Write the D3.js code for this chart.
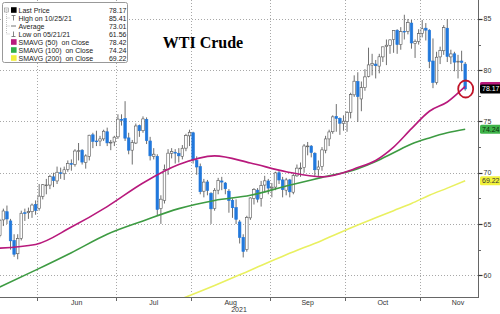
<!DOCTYPE html>
<html><head><meta charset="utf-8">
<script src="https://cdn.jsdelivr.net/npm/d3@7"></script>
<style>body{margin:0;background:#fff}svg{display:block}</style>
</head><body><svg id="c" width="500" height="314"></svg>
<script>
// ---------- DATA ----------
const dates = [
"2021-05-14","2021-05-17","2021-05-18","2021-05-19","2021-05-20","2021-05-21","2021-05-24","2021-05-25","2021-05-26","2021-05-27","2021-05-28",
"2021-06-01","2021-06-02","2021-06-03","2021-06-04","2021-06-07","2021-06-08","2021-06-09","2021-06-10","2021-06-11","2021-06-14","2021-06-15","2021-06-16","2021-06-17","2021-06-18","2021-06-21","2021-06-22","2021-06-23","2021-06-24","2021-06-25","2021-06-28","2021-06-29","2021-06-30",
"2021-07-01","2021-07-02","2021-07-06","2021-07-07","2021-07-08","2021-07-09","2021-07-12","2021-07-13","2021-07-14","2021-07-15","2021-07-16","2021-07-19","2021-07-20","2021-07-21","2021-07-22","2021-07-23","2021-07-26","2021-07-27","2021-07-28","2021-07-29","2021-07-30",
"2021-08-02","2021-08-03","2021-08-04","2021-08-05","2021-08-06","2021-08-09","2021-08-10","2021-08-11","2021-08-12","2021-08-13","2021-08-16","2021-08-17","2021-08-18","2021-08-19","2021-08-20","2021-08-23","2021-08-24","2021-08-25","2021-08-26","2021-08-27","2021-08-30","2021-08-31",
"2021-09-01","2021-09-02","2021-09-03","2021-09-07","2021-09-08","2021-09-09","2021-09-10","2021-09-13","2021-09-14","2021-09-15","2021-09-16","2021-09-17","2021-09-20","2021-09-21","2021-09-22","2021-09-23","2021-09-24","2021-09-27","2021-09-28","2021-09-29","2021-09-30",
"2021-10-01","2021-10-04","2021-10-05","2021-10-06","2021-10-07","2021-10-08","2021-10-11","2021-10-12","2021-10-13","2021-10-14","2021-10-15","2021-10-18","2021-10-19","2021-10-20","2021-10-21","2021-10-22","2021-10-25","2021-10-26","2021-10-27","2021-10-28","2021-10-29",
"2021-11-01","2021-11-02","2021-11-03","2021-11-04","2021-11-05","2021-11-08","2021-11-09","2021-11-10","2021-11-11","2021-11-12","2021-11-15","2021-11-16","2021-11-17"];

const open = [63.9,65.4,66.2,65.3,63.4,62.1,63.6,66.1,66.1,66.2,66.9,
66.5,67.7,68.8,68.8,69.6,69.2,70.0,69.9,70.3,70.9,70.8,72.1,72.2,71.0,71.6,73.7,73.1,73.1,73.3,74.0,72.9,73.0,
73.5,75.2,75.3,73.4,72.2,72.9,74.6,74.1,75.2,73.1,71.6,71.6,66.5,67.3,70.3,71.9,72.0,71.9,71.6,72.4,73.6,
73.9,71.2,70.6,68.2,69.1,68.0,66.5,68.3,69.2,69.0,68.2,67.3,66.6,65.2,63.7,62.5,65.6,67.5,68.3,67.5,68.8,69.2,
68.5,68.6,70.0,69.3,68.3,69.3,68.1,69.7,70.4,70.5,72.6,72.6,71.9,70.3,70.6,72.2,73.3,74.0,75.5,75.3,74.8,
75.0,75.9,77.6,78.9,77.2,78.3,79.4,80.5,80.6,80.4,81.3,82.3,82.4,83.0,83.9,82.5,83.8,83.8,84.6,82.6,82.8,
83.6,84.1,83.9,80.9,78.8,81.3,81.9,84.1,81.3,81.6,80.8,80.9,80.6];
const high = [65.5,66.5,66.8,65.5,64.0,64.0,66.3,66.5,66.6,67.0,67.3,
68.9,68.9,69.4,69.8,70.0,70.6,70.5,70.6,71.2,71.3,72.3,72.9,72.3,71.8,73.7,73.9,74.1,73.6,74.2,74.4,73.2,73.6,
75.7,75.7,76.98,73.9,73.2,74.8,74.7,75.5,75.4,73.5,72.4,71.8,67.8,70.8,72.3,72.4,72.3,72.4,72.7,73.8,74.2,
74.0,71.6,70.9,69.4,69.3,68.1,68.5,69.5,69.6,69.1,68.4,67.5,67.4,65.4,64.0,65.8,67.6,68.5,68.5,69.2,69.7,69.4,
69.0,70.1,70.2,69.6,69.5,69.4,69.9,70.8,71.0,72.8,73.0,72.7,72.0,71.2,72.5,73.6,74.2,75.6,76.7,75.4,75.6,
76.0,77.8,79.5,79.8,78.9,80.1,82.2,81.6,81.0,81.6,82.3,83.0,83.0,83.9,84.0,84.2,85.41,85.0,84.9,83.0,84.0,
84.9,84.6,84.0,83.1,81.8,82.3,84.4,84.97,82.0,81.8,81.5,81.9,80.8];
const low = [63.7,64.8,65.0,62.5,61.8,61.56,63.4,65.3,65.5,65.6,65.9,
66.3,67.4,67.9,68.4,68.6,68.9,69.4,69.3,70.1,70.2,70.6,71.2,70.8,70.4,71.2,72.4,72.6,72.6,73.1,72.6,72.2,72.6,
73.3,74.6,73.1,71.8,70.8,72.8,73.5,73.9,72.8,71.2,71.3,65.8,65.01,67.0,69.8,71.4,70.9,71.0,71.3,72.1,72.6,
70.9,69.8,67.9,67.6,67.8,65.01,66.3,67.9,68.3,67.9,66.1,65.6,65.0,63.1,61.74,62.3,65.4,66.9,67.1,66.7,68.1,67.9,
67.6,68.3,68.9,67.6,67.8,67.6,67.9,69.6,69.6,70.0,71.7,71.5,69.7,69.7,70.2,71.9,72.6,73.8,74.0,73.7,74.1,
74.0,75.3,77.4,74.96,76.0,78.0,79.3,79.5,79.2,79.7,80.8,80.5,81.6,81.7,81.6,82.0,83.0,83.5,82.1,81.2,82.5,
83.2,82.9,80.2,78.25,78.6,80.6,81.5,80.8,80.6,79.9,79.2,79.9,78.0];
const close = [65.37,66.27,65.49,63.36,62.05,63.58,66.05,66.07,66.21,66.85,66.32,
67.72,68.83,68.81,69.62,69.23,70.05,69.96,70.29,70.91,70.88,72.12,72.15,71.04,71.64,73.66,73.06,73.08,73.30,74.05,72.91,72.98,73.47,
75.23,75.16,73.37,72.20,72.94,74.56,74.10,75.25,73.13,71.65,71.81,66.42,67.42,70.30,71.91,72.07,71.91,71.65,72.39,73.62,73.95,
71.26,70.56,68.15,69.09,68.28,66.48,68.29,69.25,69.09,68.44,67.29,66.59,65.46,63.69,62.32,65.64,67.54,68.36,67.42,68.74,69.21,68.50,
68.59,69.99,69.29,68.35,69.30,68.14,69.72,70.45,70.46,72.61,72.61,71.97,70.29,70.56,72.23,73.30,73.98,75.45,75.29,74.83,75.03,
75.88,77.62,78.93,77.43,78.30,79.35,80.52,80.64,80.44,81.31,82.28,82.44,82.96,83.87,82.50,83.76,83.76,84.65,82.66,82.81,83.57,
84.05,83.91,80.86,78.81,81.27,81.93,84.15,81.34,81.59,80.79,80.88,80.76,78.17];

// moving averages read at sample trading-day indices
const smaIdx    = [0,10,20,30,40,50,60,70,80,90,100,105,110,115,120,125,130];
const sma50     = [62.65,63.0,64.7,66.7,69.0,70.8,71.65,70.95,70.1,69.6,70.5,71.2,72.5,74.3,76.0,76.9,78.42];
const sma100    = [58.85,60.5,62.2,64.0,65.3,66.5,67.3,67.8,68.7,69.55,70.4,71.1,71.95,72.8,73.4,73.9,74.24];
const sma200    = [null,null,null,null,null,57.6,59.0,60.5,62.0,63.4,64.9,65.6,66.3,67.0,67.8,68.5,69.22];

const yTicks = [60,65,70,75,80,85];
const yMinor = [62.5,67.5,72.5,77.5,82.5];
const monthNames = ["Jun","Jul","Aug","Sep","Oct","Nov"];
const monthDays  = [22,21,22,21,21,21];
const yearLabel = "2021";
const title = "WTI Crude";

const legendLabels = ["Last Price","High on 10/25/21","Average","Low on 05/21/21","SMAVG (50)  on Close","SMAVG (100)  on Close","SMAVG (200)  on Close"];
const legendValues = ["78.17","85.41","73.01","61.56","78.42","74.24","69.22"];
const lastPrice = 78.17;
const tagValues = [78.42, 78.17, 74.24, 69.22];
const tagText   = ["", "78.17","74.24","69.22"];   // 78.42 tag is hidden behind the last-price tag

// ---------- STYLE / LAYOUT ----------
const C = {up:"#ffffff", down:"#2178dc", wick:"#4a4a4a", s50:"#b8197c", s100:"#3d9b42", s200:"#e9f060", grid:"#a8a8a8"};
const tagFill = ["#b8197c","#000000","#3fb34a","#f2f23c"];
const tagInk  = ["#fff","#fff","#0b2a0b","#333"];
const legendIcon = ["#000","hi","avg","lo","#b8197c","#2fae49","#f0ee3a"];
const P = {l:0, r:478, t:0, b:297};
const step = 3.58, x0 = -2;
const font = "'Liberation Sans', Arial, sans-serif";

const svg = d3.select("#c");
const x = d3.scaleLinear().domain([0, dates.length]).range([x0, x0 + dates.length*step]);
const y = d3.scaleLinear().domain([57.88, 86.85]).range([P.b, P.t]);

svg.append("defs").append("clipPath").attr("id","clip")
  .append("rect").attr("x",P.l).attr("y",P.t).attr("width",P.r-P.l).attr("height",P.b-P.t);

// month starts from data
const monthStarts = [];
dates.forEach((d,i)=>{ if(i>0 && d.slice(5,7)!==dates[i-1].slice(5,7)) monthStarts.push(i); });

// grid
const grid = svg.append("g").attr("stroke",C.grid).attr("stroke-width",1).attr("stroke-dasharray","1,2");
grid.selectAll("line.h").data(yTicks).join("line").attr("class","h")
  .attr("x1",P.l).attr("x2",P.r).attr("y1",d=>Math.round(y(d))+0.5).attr("y2",d=>Math.round(y(d))+0.5);
grid.selectAll("line.v").data(monthStarts).join("line").attr("class","v")
  .attr("x1",d=>Math.round(x(d))+0.5).attr("x2",d=>Math.round(x(d))+0.5).attr("y1",P.t).attr("y2",P.b);

// candles
const candles = dates.map((d,i)=>({i,o:open[i],h:high[i],l:low[i],c:close[i]}));
const gc = svg.append("g").attr("clip-path","url(#clip)");
gc.selectAll("line.w").data(candles).join("line").attr("class","w")
  .attr("x1",d=>x(d.i+0.5)).attr("x2",d=>x(d.i+0.5))
  .attr("y1",d=>y(d.h)).attr("y2",d=>y(d.l))
  .attr("stroke",C.wick).attr("stroke-width",0.8);
const bw = step*0.72;
gc.selectAll("rect.b").data(candles).join("rect").attr("class","b")
  .attr("x",d=>x(d.i+0.5)-bw/2).attr("width",bw)
  .attr("y",d=>y(Math.max(d.o,d.c)))
  .attr("height",d=>Math.max(0.8, Math.abs(y(d.o)-y(d.c))))
  .attr("fill",d=>d.c>=d.o?C.up:C.down)
  .attr("stroke",d=>d.c>=d.o?"#555":C.down).attr("stroke-width",0.6);

// moving averages
const line = d3.line().defined(d=>d.v!=null).x(d=>x(d.i+0.5)).y(d=>y(d.v)).curve(d3.curveMonotoneX);
[[sma200,C.s200],[sma100,C.s100],[sma50,C.s50]].forEach(([arr,col])=>{
  gc.append("path").datum(smaIdx.map((i,k)=>({i,v:arr[k]})))
    .attr("d",line).attr("fill","none").attr("stroke",col).attr("stroke-width",1.6);
});

// bottom axis
const gx = svg.append("g").attr("transform",`translate(0,${P.b})`);
gx.append("line").attr("x1",P.l).attr("x2",P.r).attr("y1",0.5).attr("y2",0.5).attr("stroke","#666");
gx.selectAll("line.t").data(monthStarts).join("line").attr("class","t")
  .attr("x1",d=>Math.round(x(d))+0.5).attr("x2",d=>Math.round(x(d))+0.5).attr("y1",0).attr("y2",4).attr("stroke","#666");
gx.selectAll("text").data(monthStarts).join("text")
  .attr("x",(d,k)=>x(d+monthDays[k]/2)).attr("y",7.5)
  .attr("text-anchor","middle").attr("font-family",font).attr("font-size",7).attr("fill","#333")
  .text((d,k)=>monthNames[k]);
svg.append("text").attr("x",(P.l+P.r)/2).attr("y",P.b+15).attr("text-anchor","middle")
  .attr("font-family",font).attr("font-size",7).attr("fill","#333").text(yearLabel);

// right axis
const gy = svg.append("g").attr("transform",`translate(${P.r+0.5},0)`);
gy.append("line").attr("y1",P.t).attr("y2",P.b+1).attr("stroke","#666");
gy.selectAll("line.mj").data(yTicks).join("line").attr("class","mj")
  .attr("x1",0).attr("x2",4).attr("y1",d=>Math.round(y(d))+0.5).attr("y2",d=>Math.round(y(d))+0.5).attr("stroke","#333").attr("stroke-width",1.2);
gy.selectAll("line.mn").data(yMinor).join("line").attr("class","mn")
  .attr("x1",0).attr("x2",2.5).attr("y1",d=>Math.round(y(d))+0.5).attr("y2",d=>Math.round(y(d))+0.5).attr("stroke","#666");
gy.selectAll("text").data(yTicks).join("text")
  .attr("x",5).attr("y",d=>y(d)+2.5).attr("font-family",font).attr("font-size",7).attr("fill","#333").text(d=>d);

// value tags
const tags = svg.append("g");
tagValues.forEach((v,k)=>{
  const cy = y(v);
  const g = tags.append("g");
  g.append("rect").attr("x",P.r+2).attr("y",cy-4.5).attr("width",24).attr("height",9).attr("rx",1.5).attr("fill",tagFill[k]);
  if (tagText[k]) g.append("text").attr("x",P.r+4).attr("y",cy+2.5).attr("font-family",font).attr("font-size",7)
    .attr("fill",tagInk[k]).text(tagText[k]);
});

// red circle annotation on last bar
svg.append("ellipse").attr("cx",x(dates.length-0.5)+0.5).attr("cy",y(lastPrice))
  .attr("rx",7.5).attr("ry",8.5).attr("fill","none").attr("stroke","#c01428").attr("stroke-width",1.8);

// title
svg.append("text").attr("x",203).attr("y",48).attr("text-anchor","middle")
  .attr("font-family","'Liberation Serif','DejaVu Serif',serif").attr("font-weight","bold").attr("font-size",16)
  .attr("fill","#000").text(title);

// legend
const lg = svg.append("g");
lg.append("rect").attr("x",2.5).attr("y",2.5).attr("width",125).attr("height",60).attr("rx",2)
  .attr("fill","#fff").attr("stroke","#999");
const rowY = k => 10 + k*8;
lg.append("rect").attr("x",4.5).attr("y",8).attr("width",4).attr("height",4).attr("fill","#fff").attr("stroke","#888").attr("stroke-width",0.6);
lg.append("line").attr("x1",5.5).attr("x2",7.5).attr("y1",10).attr("y2",10).attr("stroke","#666").attr("stroke-width",0.6);
lg.append("line").attr("x1",6.5).attr("x2",6.5).attr("y1",12).attr("y2",rowY(3)).attr("stroke","#999").attr("stroke-width",0.6).attr("stroke-dasharray","1,1");
[1,2,3].forEach(k=>lg.append("line").attr("x1",6.5).attr("x2",10).attr("y1",rowY(k)).attr("y2",rowY(k)).attr("stroke","#999").attr("stroke-width",0.6).attr("stroke-dasharray","1,1"));
legendLabels.forEach((t,k)=>{
  const cy = rowY(k), ic = legendIcon[k];
  if(ic==="hi"){
    lg.append("path").attr("d",`M11.5,${cy-2.5}H15.5M13.5,${cy-2.5}V${cy+2.5}`).attr("stroke","#666").attr("stroke-width",0.8).attr("fill","none");
  } else if(ic==="lo"){
    lg.append("path").attr("d",`M11.5,${cy+2.5}H15.5M13.5,${cy-2.5}V${cy+2.5}`).attr("stroke","#666").attr("stroke-width",0.8).attr("fill","none");
  } else if(ic==="avg"){
    lg.append("path").attr("d",`M11,${cy}H16`).attr("stroke","#666").attr("stroke-width",0.9);
  } else {
    lg.append("rect").attr("x",11).attr("y",cy-2.8).attr("width",5.6).attr("height",5.6).attr("fill",ic);
  }
  lg.append("text").attr("x",18.5).attr("y",cy+2.5).attr("font-family",font).attr("font-size",7).attr("fill","#222")
    .style("white-space","pre").text(t);
  lg.append("text").attr("x",126.5).attr("y",cy+2.5).attr("text-anchor","end").attr("font-family",font).attr("font-size",7).attr("fill","#222").text(legendValues[k]);
});
</script></body></html>
